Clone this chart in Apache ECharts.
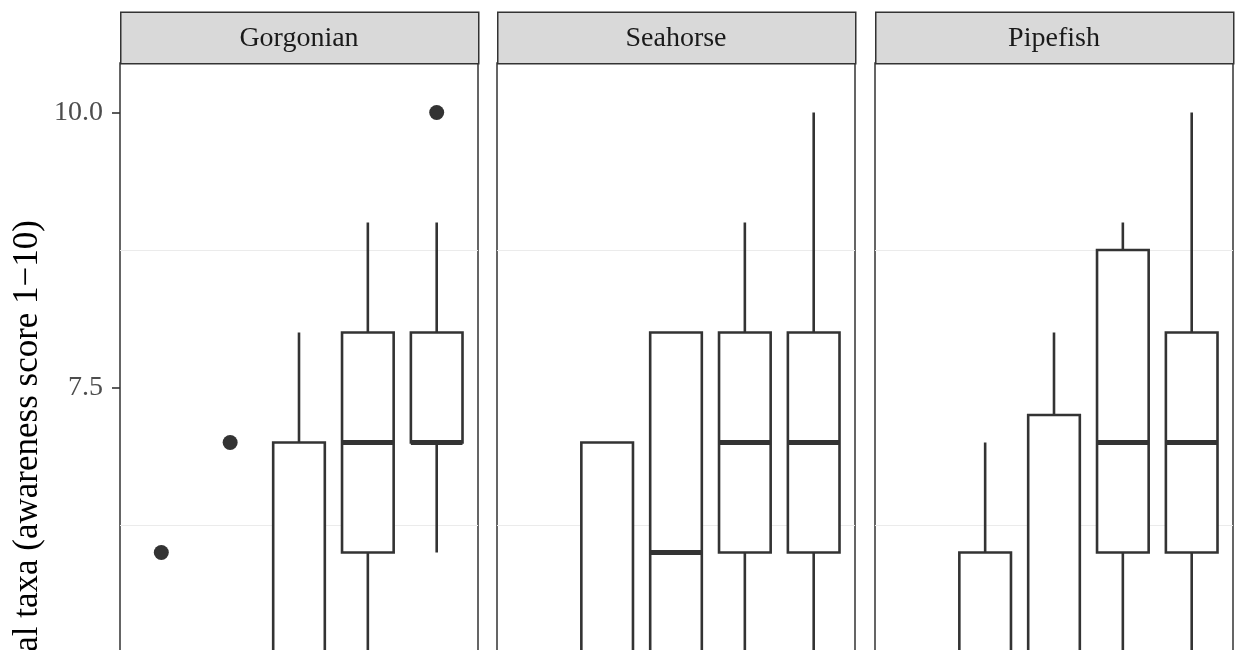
<!DOCTYPE html>
<html>
<head>
<meta charset="utf-8">
<script src="https://cdn.jsdelivr.net/npm/echarts@6/dist/echarts.min.js"></script>
<style>
html,body{margin:0;padding:0;background:#fff;overflow:hidden;}
#chart{width:1237px;height:1300px;}
</style>
</head>
<body>
<div id="chart"></div>
<script>
// ---- data ----
var panels = ['Gorgonian', 'Seahorse', 'Pipefish'];
var groups = [1, 2, 3, 4, 5];
var yTickValues = [2.5, 5.0, 7.5, 10.0];
var yAxisTitle = 'Awareness of local taxa (awareness score 1\u221210)';
// boxplot stats per group: [min, Q1, median, Q3, max]
var gorgonianStats = [[1, 1, 1.5, 2, 3], [3, 4, 4, 5, 5], [2, 4, 5, 7, 8], [3, 6, 7, 8, 9], [6, 7, 7, 8, 9]];
var seahorseStats  = [[1, 2, 3, 4, 5], [2, 4, 5, 7, 7], [3, 5, 6, 8, 8], [3, 6, 7, 8, 9], [3, 6, 7, 8, 10]];
var pipefishStats  = [[1, 2, 3, 4, 5], [2, 4, 5, 6, 7], [3, 4, 5, 7.25, 8], [3, 6, 7, 8.75, 9], [3, 6, 7, 8, 10]];
// outliers: [group, value]
var gorgonianOutliers = [[1, 6], [2, 7], [5, 10]];
var seahorseOutliers = [];
var pipefishOutliers = [];

var statsByPanel = [gorgonianStats, seahorseStats, pipefishStats];
var outliersByPanel = [gorgonianOutliers, seahorseOutliers, pipefishOutliers];

// ---- layout ----
var panelLefts = [120, 497, 875];
var panelWidth = 358;
var panelTop = 63;
var stripTop = 11.5;
var yMin = 0, yMax = 10.45;
var pxPerUnit = 110;
var panelHeight = (yMax - yMin) * pxPerUnit;
var ink = '#333333';
var serif = '"Liberation Serif", "DejaVu Serif", serif';
var boxWidth = 0.75;

var chart = echarts.init(document.getElementById('chart'), null, {renderer: 'canvas'});

var grids = [], xAxes = [], yAxes = [], series = [], graphics = [];

function renderBox(params, api) {
  var x = api.value(0);
  var mn = api.value(1), q1 = api.value(2), md = api.value(3), q3 = api.value(4), mx = api.value(5);
  var half = api.size([boxWidth, 0])[0] / 2;
  var pMin = api.coord([x, mn]), pQ1 = api.coord([x, q1]), pMd = api.coord([x, md]);
  var pQ3 = api.coord([x, q3]), pMax = api.coord([x, mx]);
  var lw = 2.6;
  var children = [];
  children.push({type: 'line', shape: {x1: pMin[0], y1: pMin[1], x2: pQ1[0], y2: pQ1[1]}, style: {stroke: ink, lineWidth: lw}});
  children.push({type: 'line', shape: {x1: pQ3[0], y1: pQ3[1], x2: pMax[0], y2: pMax[1]}, style: {stroke: ink, lineWidth: lw}});
  children.push({type: 'rect', shape: {x: pQ3[0] - half, y: pQ3[1], width: half * 2, height: pQ1[1] - pQ3[1]}, style: {fill: '#fff', stroke: ink, lineWidth: lw}});
  children.push({type: 'line', shape: {x1: pMd[0] - half, y1: pMd[1], x2: pMd[0] + half, y2: pMd[1]}, style: {stroke: ink, lineWidth: lw * 2}});
  return {type: 'group', children: children};
}

panels.forEach(function (name, i) {
  grids.push({left: panelLefts[i], top: panelTop, width: panelWidth, height: panelHeight,
    show: true, borderColor: ink, borderWidth: 1.5, backgroundColor: 'transparent',
    containLabel: false, outerBoundsMode: 'none'});
  xAxes.push({type: 'value', gridIndex: i, min: 0.4, max: 5.6, show: false});
  yAxes.push({
    type: 'value', gridIndex: i, min: yMin, max: yMax, interval: 2.5,
    axisLine: {show: false},
    axisTick: {show: i === 0, length: 8, customValues: yTickValues, lineStyle: {color: ink, width: 1.6}},
    axisLabel: {show: i === 0, margin: 17, color: '#4D4D4D', fontFamily: serif, fontSize: 28,
      customValues: yTickValues,
      formatter: function (v) { return Number(v).toFixed(1); }},
    splitLine: {show: false},
    minorTick: {show: false, splitNumber: 2},
    minorSplitLine: {show: true, lineStyle: {color: '#EBEBEB', width: 1.2}}
  });
  var data = statsByPanel[i].map(function (s, k) { return [groups[k]].concat(s); });
  series.push({type: 'custom', xAxisIndex: i, yAxisIndex: i, renderItem: renderBox, data: data, clip: false, silent: true, z: 3});
  series.push({type: 'scatter', xAxisIndex: i, yAxisIndex: i, data: outliersByPanel[i], symbol: 'circle', symbolSize: 15,
    itemStyle: {color: ink, opacity: 1}, silent: true, z: 4});
  // strip
  graphics.push({type: 'rect', left: panelLefts[i], top: stripTop, z: 10,
    shape: {x: 0, y: 0, width: panelWidth, height: panelTop - stripTop},
    style: {fill: '#D9D9D9', stroke: ink, lineWidth: 1.5}});
  graphics.push({type: 'text', x: panelLefts[i] + panelWidth / 2, y: (stripTop + panelTop) / 2 + 1, z: 11,
    style: {text: name, font: '28px ' + serif, fill: '#1A1A1A', align: 'center', verticalAlign: 'middle', textAlign: 'center', textVerticalAlign: 'middle'}});
});

graphics.push({type: 'text', x: 28, y: 220, rotation: Math.PI / 2, z: 11,
  style: {text: yAxisTitle, font: '35px ' + serif, fill: '#000', align: 'right', verticalAlign: 'middle', textAlign: 'right', textVerticalAlign: 'middle'}});

chart.setOption({
  animation: false,
  backgroundColor: '#fff',
  grid: grids, xAxis: xAxes, yAxis: yAxes, series: series, graphic: graphics
});
</script>
</body>
</html>
